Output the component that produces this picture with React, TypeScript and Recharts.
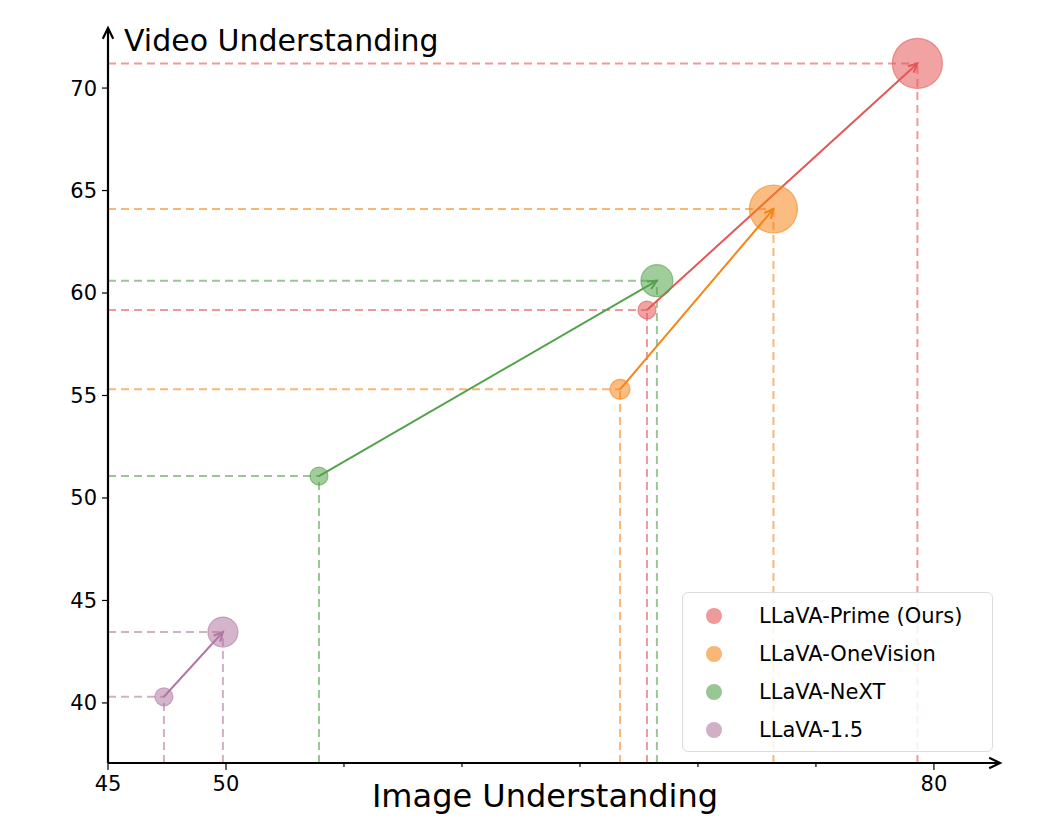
import { ReferenceLine, Scatter, ScatterChart, XAxis, YAxis } from "recharts";

const seriesNames = ["LLaVA-Prime (Ours)", "LLaVA-OneVision", "LLaVA-NeXT", "LLaVA-1.5"];
const seriesColors = ["#e45756", "#f58518", "#54a24b", "#b279a2"];
// [small model, large model] per series
const imageScores = [
  [67.84, 79.3],
  [66.7, 73.2],
  [53.94, 68.26],
  [47.37, 49.87],
];
const videoScores = [
  [59.17, 71.2],
  [55.3, 64.1],
  [51.07, 60.6],
  [40.3, 43.46],
];
const bubbleRadius = [
  [9, 25],
  [10, 24],
  [9, 16],
  [9, 15],
];
const xTicks = [45, 50, 55, 60, 65, 70, 75, 80];
const xLabelled = [45, 50, 80];
const yTicks = [40, 45, 50, 55, 60, 65, 70];

const X_MIN = 45;
const X_MAX = 82.8;
const Y_MIN = 37.07;
const Y_MAX = 72.93;
const FONT = "'DejaVu Sans', sans-serif";

const series = seriesNames.map((name, i) => ({
  name,
  color: seriesColors[i],
  points: imageScores[i].map((x, j) => ({ x, y: videoScores[i][j], r: bubbleRadius[i][j] })),
}));

function Bubble({ cx, cy, payload, fill }: any) {
  return <circle cx={cx} cy={cy} r={payload.r} fill={fill} fillOpacity={0.55} stroke={fill} strokeOpacity={0.6} strokeWidth={1.2} />;
}

function arrowShape(color: string, width: number, head: number) {
  return (props: any) => {
    const { x1, y1, x2, y2 } = props;
    const a = Math.atan2(y2 - y1, x2 - x1);
    const spread = 0.45;
    const hx1 = x2 - head * Math.cos(a - spread);
    const hy1 = y2 - head * Math.sin(a - spread);
    const hx2 = x2 - head * Math.cos(a + spread);
    const hy2 = y2 - head * Math.sin(a + spread);
    return (
      <g>
        <line x1={x1} y1={y1} x2={x2} y2={y2} stroke={color} strokeWidth={width} />
        <polyline points={`${hx1},${hy1} ${x2},${y2} ${hx2},${hy2}`} fill="none" stroke={color} strokeWidth={width} />
      </g>
    );
  };
}

function XTick({ x, y, payload }: any) {
  const major = xLabelled.includes(payload.value);
  return (
    <g>
      <line x1={x} y1={y} x2={x} y2={y + (major ? 7 : 4)} stroke="#000" strokeWidth={1.2} />
      {major && (
        <text x={x} y={y + 28} textAnchor="middle" fontSize={21} fontFamily={FONT} fill="#000">
          {payload.value}
        </text>
      )}
    </g>
  );
}

export default function App() {
  return (
    <div style={{ position: "absolute", left: 0, top: 0, width: 1043, height: 827, background: "#fff", fontFamily: FONT }}>
      <ScatterChart width={1043} height={827} margin={{ top: 28, right: 43, left: 0, bottom: 0 }}>
        <XAxis
          type="number"
          dataKey="x"
          domain={[X_MIN, X_MAX]}
          ticks={xTicks}
          allowDataOverflow
          height={64}
          axisLine={false}
          tickSize={0}
          tickMargin={0}
          tick={<XTick />}
          interval={0}
        />
        <YAxis
          type="number"
          dataKey="y"
          domain={[Y_MIN, Y_MAX]}
          ticks={yTicks}
          allowDataOverflow
          width={108}
          axisLine={false}
          tickSize={6}
          tickMargin={5}
          tickLine={{ stroke: "#000", strokeWidth: 1.2 }}
          tick={{ fill: "#000", fontSize: 21, fontFamily: FONT }}
          interval={0}
        />
        {series.flatMap((s) =>
          s.points.flatMap((p, j) => [
            <ReferenceLine
              key={`${s.name}-h${j}`}
              segment={[{ x: X_MIN, y: p.y }, { x: p.x, y: p.y }]}
              stroke={s.color}
              strokeOpacity={0.6}
              strokeWidth={2}
              strokeDasharray="8 5"
              ifOverflow="visible"
            />,
            <ReferenceLine
              key={`${s.name}-v${j}`}
              segment={[{ x: p.x, y: Y_MIN }, { x: p.x, y: p.y }]}
              stroke={s.color}
              strokeOpacity={0.6}
              strokeWidth={2}
              strokeDasharray="8 5"
              ifOverflow="visible"
            />,
          ])
        )}
        {series.map((s) => (
          <Scatter key={s.name} name={s.name} data={s.points} fill={s.color} shape={<Bubble />} isAnimationActive={false} />
        ))}
        {series.map((s) => (
          <ReferenceLine
            key={`${s.name}-arrow`}
            segment={[
              { x: s.points[0].x, y: s.points[0].y },
              { x: s.points[1].x, y: s.points[1].y },
            ]}
            ifOverflow="visible"
            shape={arrowShape(s.color, 2, 10)}
          />
        ))}
        <ReferenceLine
          segment={[{ x: X_MIN, y: Y_MIN }, { x: X_MAX, y: Y_MIN }]}
          ifOverflow="visible"
          shape={arrowShape("#000", 2.2, 12)}
        />
        <ReferenceLine
          segment={[{ x: X_MIN, y: Y_MIN }, { x: X_MIN, y: Y_MAX }]}
          ifOverflow="visible"
          shape={arrowShape("#000", 2.2, 12)}
        />
      </ScatterChart>
      <div style={{ position: "absolute", left: 124, top: 22, fontSize: 30, lineHeight: "38px", color: "#000" }}>Video Understanding</div>
      <div style={{ position: "absolute", left: 545, top: 776, transform: "translateX(-50%)", fontSize: 32, lineHeight: "40px", whiteSpace: "nowrap", color: "#000" }}>
        Image Understanding
      </div>
      <div
        style={{
          position: "absolute",
          left: 682,
          top: 592,
          width: 311,
          height: 160,
          boxSizing: "border-box",
          border: "1.5px solid #dcdcdc",
          borderRadius: 6,
          background: "rgba(255,255,255,0.85)",
          paddingTop: 4,
        }}
      >
        {series.map((s) => (
          <div key={s.name} style={{ display: "flex", alignItems: "center", height: 38 }}>
            <span
              style={{
                display: "inline-block",
                width: 16,
                height: 16,
                borderRadius: 8,
                marginLeft: 23,
                background: s.color,
                opacity: 0.6,
              }}
            />
            <span style={{ marginLeft: 37, fontSize: 21, color: "#000", whiteSpace: "nowrap" }}>{s.name}</span>
          </div>
        ))}
      </div>
    </div>
  );
}
